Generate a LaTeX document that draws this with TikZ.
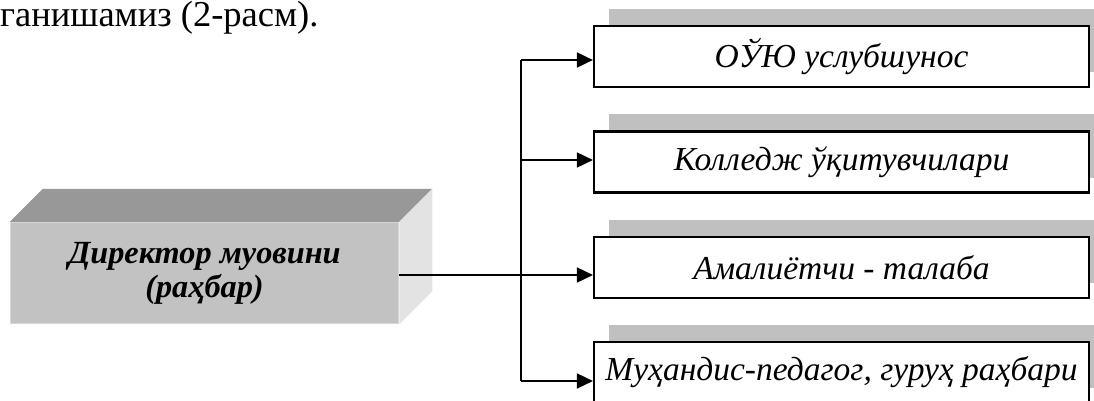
\documentclass[tikz,border=0pt]{standalone}
\usepackage{fontspec}
\setmainfont{Liberation Serif}
\usetikzlibrary{arrows.meta,backgrounds}
\definecolor{shadowgray}{HTML}{C0C0C0}
\definecolor{topgray}{HTML}{989898}
\definecolor{frontgray}{HTML}{C2C2C2}
\definecolor{rimgray}{HTML}{D6D6D6}
\definecolor{sidegray}{HTML}{E3E3E3}
\begin{document}
\begin{tikzpicture}[x=1pt,y=-1pt,
  sbox/.style={draw=black,line width=2.2pt,fill=white,minimum width=495pt,minimum height=61pt,inner sep=0pt,
    font=\fontsize{33.5}{38}\selectfont\itshape},
  conn/.style={line width=1.8pt},
  arr/.style={conn,-{Triangle[length=16pt,width=15pt]}},
  frontface/.style={fill=frontgray,draw=rimgray,line width=1.5pt,minimum width=388pt,minimum height=101pt,inner sep=0pt,
    align=center,font=\fontsize{32.3}{34}\selectfont\bfseries\itshape}]
\useasboundingbox (0,0) rectangle (1094,401);

% header text
\node[anchor=base west,inner sep=0pt,font=\fontsize{36.5}{40}\selectfont] (hdr) at (0,26.5) {ганишамиз (2-расм).};

% target boxes
\node[sbox] (b1) at (841.5,56.5) {ОЎЮ услубшунос};
\node[sbox] (b2) at (841.5,162) {Колледж ўқитувчилари};
\node[sbox] (b3) at (841.5,267.5) {Амалиётчи - талаба};
\node[sbox] (b4) at (841.5,372.5) {Муҳандис-педагог, гуруҳ раҳбари};
\begin{scope}[on background layer]
  \foreach \b in {b1,b2,b3,b4}{
    \fill[shadowgray] ([shift={(16pt,16pt)}]\b.south west) rectangle ([shift={(16pt,16pt)}]\b.north east);
  }
\end{scope}

% 3D main box
\node[frontface] (main) at (204.5,273) {Директор муовини\\(раҳбар)};
\fill[topgray] (main.north west) -- ++(33,-33) -- ([shift={(33pt,33pt)}]main.north east) -- (main.north east) -- cycle;
\fill[sidegray] (main.north east) -- ++(33,-33) -- ([shift={(33pt,33pt)}]main.south east) -- (main.south east) -- cycle;

% connectors
\coordinate (t1) at (521,60);
\coordinate (t2) at (521,160);
\coordinate (t3) at (521,275);
\coordinate (t4) at (521,381);
\coordinate (mo) at ([yshift=-2pt]main.east);
\draw[conn] (t1) -- (t4);
\draw[arr] (t1) -- (t1 -| b1.west);
\draw[arr] (t2) -- (t2 -| b2.west);
\draw[arr] (mo) -- (mo -| b3.west);
\draw[arr] (t4) -- (t4 -| b4.west);
\end{tikzpicture}
\end{document}
